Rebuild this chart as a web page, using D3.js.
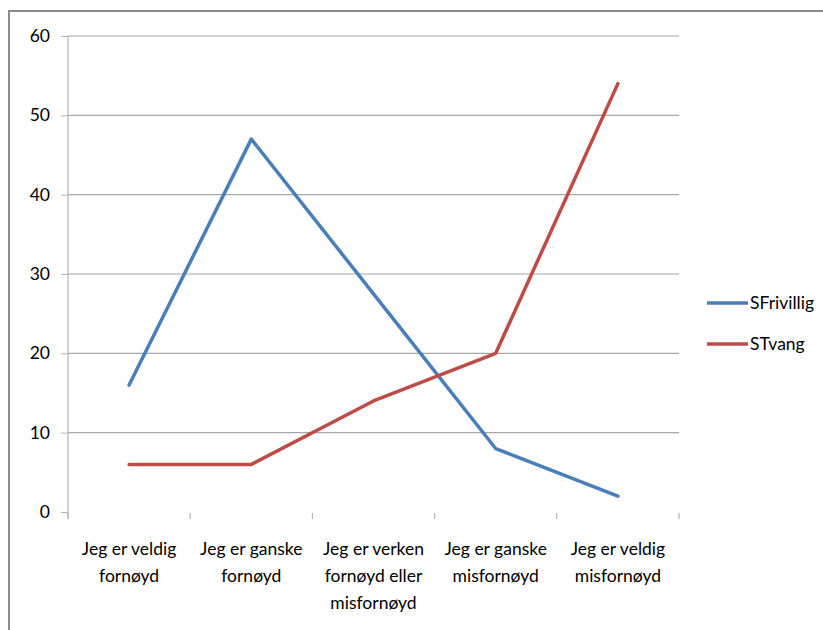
<!DOCTYPE html>
<html><head><meta charset="utf-8">
<script src="https://cdn.jsdelivr.net/npm/d3@7"></script>
<style>body{margin:0;background:#fff}svg{display:block}text{font-family:Lato,"Open Sans",sans-serif;fill:#000}</style>
</head><body><svg id="c" width="823" height="630"></svg>
<script>
const categories = [
  ["Jeg er veldig","fornøyd"],
  ["Jeg er ganske","fornøyd"],
  ["Jeg er verken","fornøyd eller","misfornøyd"],
  ["Jeg er ganske","misfornøyd"],
  ["Jeg er veldig","misfornøyd"]
];
const seriesNames = ["SFrivillig","STvang"];
const sFrivillig = [16, 47, 27.5, 8, 2];
const sTvang = [6, 6, 14, 20, 54];
const yTicks = [0,10,20,30,40,50,60];
const colors = ["#4a7ebb","#be4b48"];

(function(){
const svg = d3.select("#c");
// outer border
svg.append("rect").attr("x",9).attr("y",11).attr("width",830).attr("height",640)
  .attr("fill","none").attr("stroke","#8c8c8c").attr("stroke-width",2);

const pL=68, pR=679, pT=36, pB=512;
const x = d3.scaleBand().domain(d3.range(categories.length)).range([pL,pR]);
const y = d3.scaleLinear().domain([0,60]).range([pB,pT]);

// gridlines
svg.append("g").selectAll("line").data(yTicks.filter(d=>d>0)).join("line")
  .attr("x1",pL).attr("x2",pR).attr("y1",d=>y(d)).attr("y2",d=>y(d))
  .attr("stroke","#a6a6a6").attr("stroke-width",1.2);

// y axis
const ya = svg.append("g").attr("transform",`translate(${pL},0)`)
  .call(d3.axisLeft(y).tickValues(yTicks).tickSize(7).tickPadding(11));
ya.select(".domain").attr("stroke","#b3b3b3").attr("stroke-width",1.2).attr("d",`M0,${pT}V${pB+7}`);
ya.selectAll(".tick line").attr("stroke","#b3b3b3");
ya.selectAll(".tick text").attr("font-size",17.5).attr("font-family","Lato, sans-serif").attr("fill","#000");

// x axis ticks (band boundaries), no axis line
const bounds = d3.range(categories.length+1).map(i=> i<categories.length ? x(i) : x(i-1)+x.bandwidth());
svg.append("g").selectAll("line").data(bounds).join("line")
  .attr("x1",d=>d).attr("x2",d=>d).attr("y1",pB+1).attr("y2",pB+7)
  .attr("stroke","#b3b3b3").attr("stroke-width",1.2);

// x labels
const xl = svg.append("g").selectAll("text").data(categories).join("text")
  .attr("text-anchor","middle").attr("font-size",17.5)
  .attr("x",(d,i)=>x(i)+x.bandwidth()/2).attr("y",555);
xl.each(function(d){
  const t=d3.select(this);
  d.forEach((s,j)=>t.append("tspan").attr("x",t.attr("x")).attr("dy",j?26.8:0).text(s));
});

// lines
const line = d3.line().x((d,i)=>x(i)+x.bandwidth()/2).y(d=>y(d));
[sFrivillig,sTvang].forEach((s,k)=>{
  svg.append("path").datum(s).attr("d",line).attr("fill","none")
    .attr("stroke",colors[k]).attr("stroke-width",3.5).attr("stroke-linejoin","round").attr("stroke-linecap","round");
});

// legend
const lg = svg.append("g").selectAll("g").data(seriesNames).join("g")
  .attr("transform",(d,i)=>`translate(707,${303+i*41})`);
lg.append("line").attr("x1",0).attr("x2",41).attr("stroke",(d,i)=>colors[i]).attr("stroke-width",3.5);
lg.append("text").attr("x",43).attr("dy","0.35em").attr("font-size",17.5).text(d=>d);
})();
</script></body></html>
